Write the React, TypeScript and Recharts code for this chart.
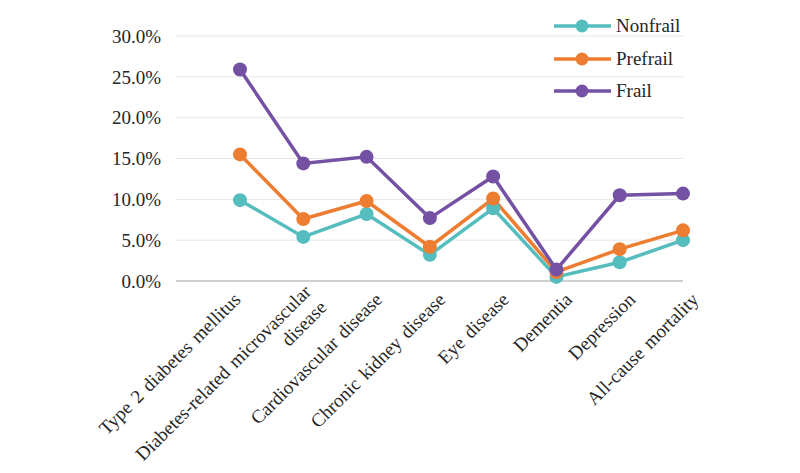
import React from 'react';
import { CartesianGrid, Legend, Line, LineChart, XAxis, YAxis } from 'recharts';

const categories = [
  'Type 2 diabetes mellitus',
  'Diabetes-related microvascular disease',
  'Cardiovascular disease',
  'Chronic kidney disease',
  'Eye disease',
  'Dementia',
  'Depression',
  'All-cause mortality',
];
const nonfrail = [9.9, 5.4, 8.2, 3.2, 8.9, 0.5, 2.3, 5.0];
const prefrail = [15.5, 7.6, 9.8, 4.2, 10.1, 1.1, 3.9, 6.2];
const frail = [25.9, 14.4, 15.2, 7.7, 12.8, 1.4, 10.5, 10.7];
const yTicks = [0, 5, 10, 15, 20, 25, 30];
const seriesOrder = ['Nonfrail', 'Prefrail', 'Frail'];

const FONT = '"Times New Roman", "Liberation Serif", serif';
const TEXT = '#262626';
const colors = { nonfrail: '#56BDBE', prefrail: '#ED7D31', frail: '#7551A3' };

const data = categories.map((name, i) => ({
  name,
  nonfrail: nonfrail[i],
  prefrail: prefrail[i],
  frail: frail[i],
}));

const wrapLabel = (text: string, max: number) => {
  const lines: string[] = [];
  let cur = '';
  text.split(' ').forEach((w) => {
    if (cur && (cur + ' ' + w).length > max) {
      lines.push(cur);
      cur = w;
    } else {
      cur = cur ? cur + ' ' + w : w;
    }
  });
  if (cur) lines.push(cur);
  return lines;
};

const CategoryTick = (props: any) => {
  const { x, y, payload, index } = props;
  const lines = wrapLabel(payload.value, 30);
  const shift = index === 0 ? -3 : 12;
  const lh = 22;
  return (
    <g transform={`translate(${x + shift},${y + 15}) rotate(-45)`}>
      <text textAnchor="end" fontFamily={FONT} fontSize={19} fill={TEXT} wordSpacing={2}>
        {lines.map((l, i) => (
          <tspan key={i} x={0} y={(i - (lines.length - 1) / 2) * lh} dy="0.35em">
            {l}
          </tspan>
        ))}
      </text>
    </g>
  );
};

const renderLegend = (props: any) => {
  const items = [...(props.payload || [])].sort(
    (a: any, b: any) => seriesOrder.indexOf(a.value) - seriesOrder.indexOf(b.value)
  );
  return (
    <div style={{ fontFamily: FONT, fontSize: 19, color: TEXT }}>
      {items.map((entry: any) => (
        <div key={entry.value} style={{ display: 'flex', alignItems: 'center', height: 32.5 }}>
          <svg width={60} height={16} style={{ marginRight: 3 }}>
            <line x1={1} y1={8} x2={58} y2={8} stroke={entry.color} strokeWidth={3.5} />
            <circle cx={29} cy={8} r={6.5} fill={entry.color} />
          </svg>
          <span>{entry.value}</span>
        </div>
      ))}
    </div>
  );
};

export default function App() {
  return (
    <div style={{ position: 'absolute', left: 0, top: 0, background: '#fff' }}>
      <LineChart
        width={800}
        height={473}
        data={data}
        margin={{ top: 36, right: 117, bottom: 0, left: 0 }}
      >
        <CartesianGrid vertical={false} stroke="#E6E6E6" strokeWidth={1} />
        <XAxis
          dataKey="name"
          interval={0}
          height={192}
          padding={{ left: 64, right: 0 }}
          axisLine={{ stroke: '#D0D0D0', strokeWidth: 2 }}
          tickLine={false}
          tickSize={0}
          tickMargin={0}
          tick={<CategoryTick />}
        />
        <YAxis
          type="number"
          domain={[0, 30]}
          ticks={yTicks}
          width={176}
          axisLine={false}
          tickLine={false}
          tickSize={0}
          tickMargin={15}
          tickFormatter={(v: number) => v.toFixed(1) + '%'}
          tick={{ fontFamily: FONT, fontSize: 19, fill: TEXT }}
        />
        <Legend
          layout="vertical"
          align="center"
          verticalAlign="middle"
          content={renderLegend}
          wrapperStyle={{ top: 10, left: 553, width: 170 }}
        />
        <Line
          name="Nonfrail"
          dataKey="nonfrail"
          stroke={colors.nonfrail}
          strokeWidth={3.5}
          dot={{ r: 7, fill: colors.nonfrail, stroke: colors.nonfrail, strokeWidth: 0 }}
          activeDot={false}
          isAnimationActive={false}
        />
        <Line
          name="Prefrail"
          dataKey="prefrail"
          stroke={colors.prefrail}
          strokeWidth={3.5}
          dot={{ r: 7, fill: colors.prefrail, stroke: colors.prefrail, strokeWidth: 0 }}
          activeDot={false}
          isAnimationActive={false}
        />
        <Line
          name="Frail"
          dataKey="frail"
          stroke={colors.frail}
          strokeWidth={3.5}
          dot={{ r: 7, fill: colors.frail, stroke: colors.frail, strokeWidth: 0 }}
          activeDot={false}
          isAnimationActive={false}
        />
      </LineChart>
    </div>
  );
}
